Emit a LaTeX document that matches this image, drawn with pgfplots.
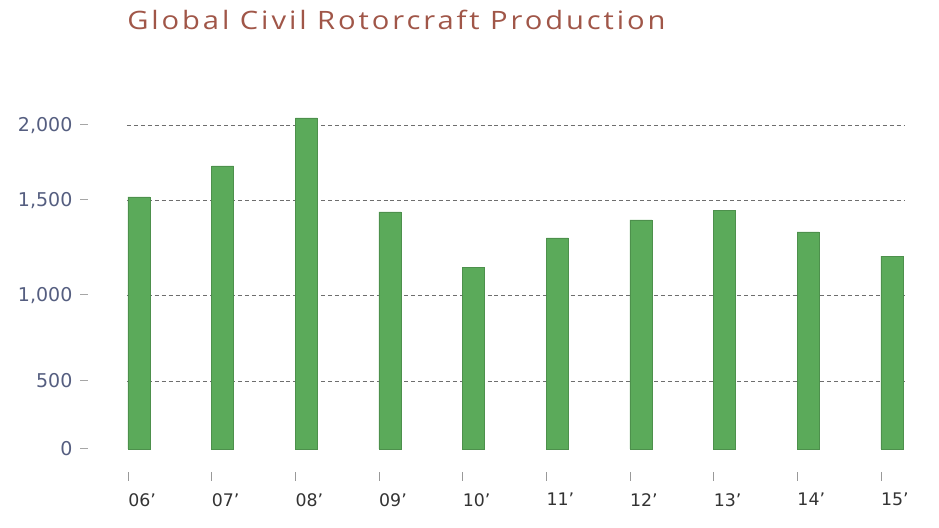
\documentclass[border=0pt]{standalone}
\usepackage{pgfplots}
\pgfplotsset{compat=1.18}
\usepackage{fontspec}
\setmainfont{DejaVu Sans}
\newfontfamily\titlefont[LetterSpace=10]{Open Sans}

\definecolor{barGreen}{RGB}{91,170,90}
\definecolor{titleRed}{RGB}{160,86,72}
\definecolor{tickBlue}{RGB}{85,94,128}
\definecolor{gridGray}{RGB}{110,110,110}

% dash after each y label, like the reference
\newcommand{\ydash}{\hspace{6pt}\textcolor{gray!70}{\rule[0.36em]{6pt}{0.7pt}}}

\begin{document}
\begin{tikzpicture}
\begin{axis}[
    at={(0,0)}, anchor=origin,
    x=62.74pt, y=0.75pt,
    xmin=-0.012, xmax=9.29,
    ymin=-169, ymax=2100,
    % the source chart's y axis is not linear: piecewise mapping
    y coord trafo/.code={\pgfmathparse{0.136*min(#1,500)+0.172*max(0,min(#1,1000)-500)+0.19*max(0,min(#1,1500)-1000)+0.15*max(0,#1-1500)}},
    axis x line*=bottom, axis y line*=left,
    axis line style={draw=none},
    tick align=outside,
    major tick length=6.75pt,
    ytick style={draw=none},
    xtick style={draw=gray!80, line width=0.5pt},
    xtick={0,...,9},
    xticklabels={06’,07’,08’,09’,10’,11’,12’,13’,14’,15’},
    ytick={500,1000,1500,2000},
    yticklabels={{500\ydash},{1,000\ydash},{1,500\ydash},{2,000\ydash}},
    extra y ticks={0},
    extra y tick labels={{0\ydash}},
    extra y tick style={grid=none},
    yticklabel style={font=\fontsize{14.25}{16}\selectfont, text=tickBlue,
        anchor=base east, inner sep=0pt, yshift=-5.2pt, xshift=-22pt},
    xticklabel style={font=\fontsize{13}{15}\selectfont, text=black!80,
        anchor=north west, inner sep=0pt, yshift=-9pt},
    ymajorgrids,
    major grid style={gridGray, line width=0.5pt, dash pattern=on 3pt off 2.2pt},
    clip=false,
]
\addplot[ybar, bar width=16.5pt, bar shift=8.25pt, fill=barGreen,
    draw=barGreen!85!black, line width=0.4pt] coordinates {
    (0,1520) (1,1727) (2,2047) (3,1437) (4,1147)
    (5,1300) (6,1395) (7,1447) (8,1332) (9,1205)
};
\end{axis}
\node[anchor=base west, inner sep=0pt, text=titleRed, xscale=1.15,
    font=\titlefont\fontsize{19}{21}\selectfont] at (-0.75pt,314.25pt)
    {Global Civil Rotorcraft Production};
\pgfresetboundingbox
\useasboundingbox (-96pt,-59.25pt) rectangle (608.25pt,336.75pt);
\end{tikzpicture}
\end{document}
